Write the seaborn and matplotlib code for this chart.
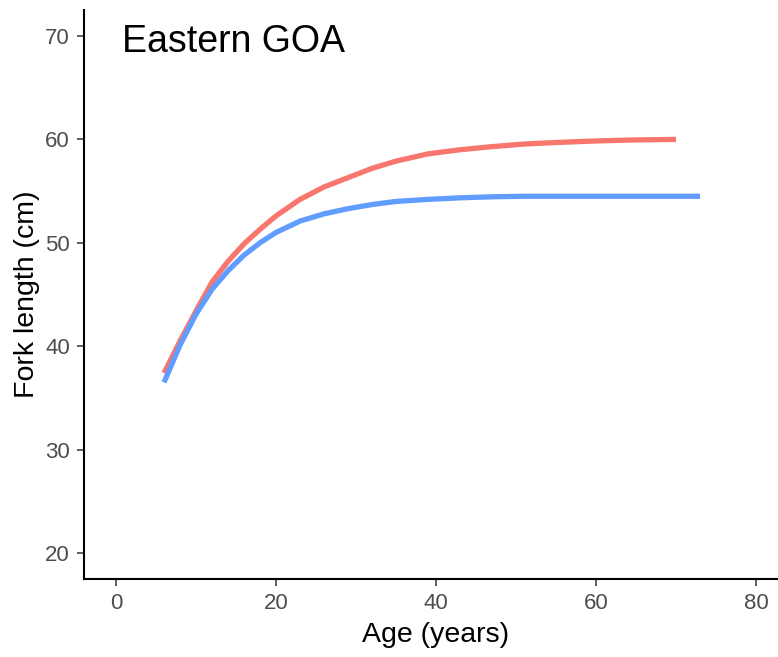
import matplotlib
matplotlib.use("Agg")
import matplotlib.pyplot as plt
import seaborn as sns
import pandas as pd

# Data
ages_red = [6, 8, 10, 12, 14, 16, 18, 20, 23, 26, 29, 32, 35, 39, 43, 47, 51, 55, 60, 65, 70]
len_red = [37.4, 40.5, 43.4, 46.2, 48.2, 49.9, 51.3, 52.6, 54.2, 55.4, 56.3, 57.2, 57.9,
           58.6, 59.0, 59.3, 59.55, 59.7, 59.85, 59.95, 60.0]
ages_blue = [6, 8, 10, 12, 14, 16, 18, 20, 23, 26, 29, 32, 35, 39, 43, 47, 51, 60, 73]
len_blue = [36.5, 40.1, 43.1, 45.5, 47.3, 48.8, 50.0, 51.0, 52.1, 52.8, 53.3, 53.7, 54.0,
            54.2, 54.35, 54.45, 54.5, 54.5, 54.5]
groups = ["Female", "Male"]
x_ticks = [0, 20, 40, 60, 80]
y_ticks = [20, 30, 40, 50, 60, 70]
panel_title = "Eastern GOA"

df = pd.concat([
    pd.DataFrame({"age": ages_red, "length": len_red, "sex": groups[0]}),
    pd.DataFrame({"age": ages_blue, "length": len_blue, "sex": groups[1]}),
], ignore_index=True)

sns.set_style("white")
plt.rcParams["font.family"] = ["Liberation Sans", "DejaVu Sans"]

fig = plt.figure(figsize=(7.78, 6.57), dpi=100)
ax = fig.add_axes([84 / 778, 1 - 578.85 / 657, 704 / 778, 568.7 / 657])

sns.lineplot(data=df, x="age", y="length", hue="sex",
             palette={groups[0]: "#F8766D", groups[1]: "#619CFF"},
             linewidth=3.8, legend=False, ax=ax, sort=True,
             solid_capstyle="butt")

ax.set_xlim(-4, 84)
ax.set_ylim(17.5, 72.5)
ax.set_xticks(x_ticks)
ax.set_yticks(y_ticks)
ax.set_xlabel("Age (years)", fontsize=20.5, color="black", labelpad=6)
ax.set_ylabel("Fork length (cm)", fontsize=20.5, color="black", labelpad=4)
ax.tick_params(axis="both", labelsize=16, labelcolor="#4D4D4D", color="#333333",
               length=5, width=1.1, direction="out", pad=5,
               bottom=True, left=True, top=False, right=False)
for s in ["top", "right"]:
    ax.spines[s].set_visible(False)
for s in ["left", "bottom"]:
    ax.spines[s].set_color("black")
    ax.spines[s].set_linewidth(1.5)
ax.grid(False)

ax.text(0.7, 69.4, panel_title, fontsize=27, color="black", ha="left", va="center")

fig.savefig("out.png", dpi=100)
